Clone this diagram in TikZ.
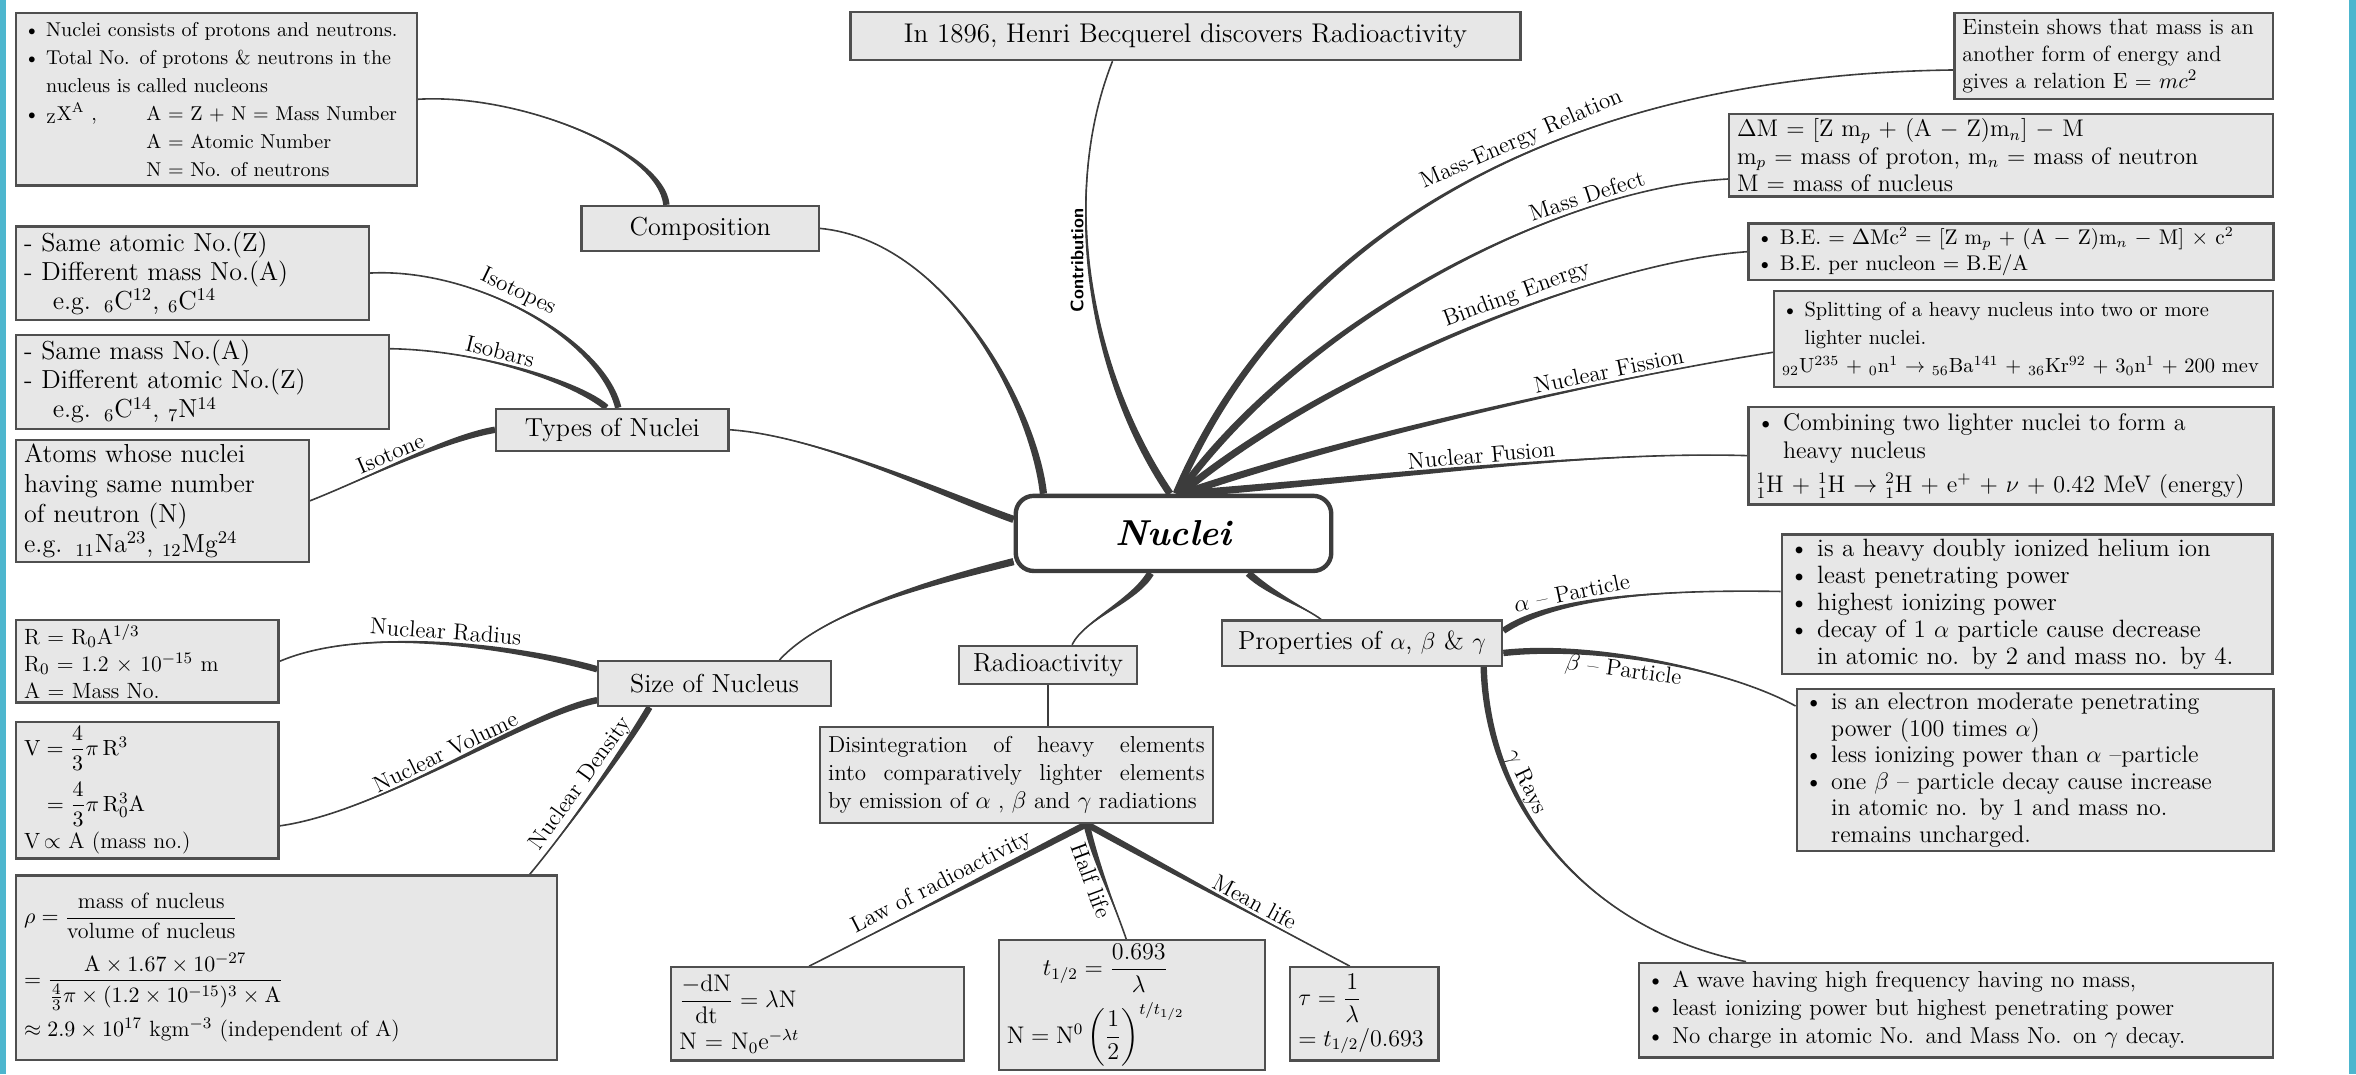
\documentclass[tikz,border=0pt]{standalone}
\usepackage{amsmath,amssymb}
\usepackage{xcolor}
\usepackage{tikz}
\usetikzlibrary{calc}
\pgfdeclarelayer{background}
\pgfsetlayers{background,main}

\definecolor{boxfill}{HTML}{E7E7E7}
\definecolor{boxline}{HTML}{4F4F4F}
\definecolor{wirecol}{HTML}{3C3C3C}
\definecolor{sidebar}{HTML}{4DB6CE}

\newcommand{\fs}[2]{\fontsize{#1}{#2}\selectfont}
\newcommand{\bul}{\makebox[1.1em][l]{\textbullet}}
\newcommand{\ind}{\hspace*{1.1em}}
\newcommand{\branch}[6][1.8]{%
  \fill[wirecol] ($#2!#1pt!90:#3$) .. controls ($#3!#1pt!-90:#2$) and #4 .. #5
    .. controls #4 and ($#3!#1pt!90:#2$) .. ($#2!#1pt!-90:#3$) -- cycle;
  \draw[wire] #2 .. controls #3 and #4 .. #5 #6;}

\begin{document}
\begin{tikzpicture}[x=0.75pt, y=-0.75pt,
  box/.style={draw=boxline, fill=boxfill, line width=1.1pt, anchor=north west, align=left, inner xsep=4pt, inner ysep=2pt},
  tag/.style={draw=boxline, fill=boxfill, line width=1.1pt, inner sep=2pt, font=\fs{13}{15}},
  wire/.style={draw=wirecol, line width=0.8pt},
  lbl/.style={sloped, above, inner sep=1.5pt, font=\fs{11.5}{12}}]
    \useasboundingbox (0,0) rectangle (1568,715);
    \fill[sidebar] (0,0) rectangle (4,715);
    \fill[sidebar] (1563,0) rectangle (1568,715);

    \node[draw=wirecol, line width=2.2pt, rounded corners=9pt, fill=white, minimum width=157.5pt, minimum height=37.5pt, font=\fs{18}{20}\bfseries\itshape] (nuc) at (781,355) {Nuclei};

    \node[tag, minimum width=334.5pt, minimum height=24pt, font=\fs{13.5}{15}] (toptag) at (789,24) {In 1896, Henri Becquerel discovers Radioactivity};
    \node[tag, minimum width=118.5pt, minimum height=22.5pt] (comptag) at (466,152) {Composition};
    \node[tag, minimum width=116pt, minimum height=21pt] (typestag) at (407.5,286) {Types of Nuclei};
    \node[tag, minimum width=116pt, minimum height=22.5pt] (sizetag) at (475.5,455) {Size of Nucleus};
    \node[tag, minimum width=89pt, minimum height=19pt] (radiotag) at (697.5,442.5) {Radioactivity};
    \node[tag, minimum width=140pt, minimum height=22.5pt] (propstag) at (906.5,428) {Properties of $\alpha$, $\beta$ \& $\gamma$};

    \node[box, text width=192pt, minimum height=86pt, font=\fs{10}{14}] (comp) at (10,8)
        {\bul Nuclei consists of protons and neutrons.\\
         \bul Total No. of protons \& neutrons in the\\
         \ind nucleus is called nucleons\\
         \bul\makebox[5em][l]{${}_{\mathrm{Z}}\mathrm{X}^{\mathrm{A}}$ ,}A = Z + N = Mass Number\\
         \hspace*{6.1em}A = Atomic Number\\
         \hspace*{6.1em}N = No. of neutrons};
    \node[box, text width=168pt, minimum height=46.5pt, font=\fs{13}{14.5}] (iso) at (10,150)
        {- Same atomic No.(Z)\\ - Different mass No.(A)\\ \ind e.g. ${}_6$C$^{12}$, ${}_6$C$^{14}$};
    \node[box, text width=178pt, minimum height=47pt, font=\fs{13}{14.5}] (isobar) at (10,222)
        {- Same mass No.(A)\\ - Different atomic No.(Z)\\ \ind e.g. ${}_6$C$^{14}$, ${}_7$N$^{14}$};
    \node[box, text width=138pt, minimum height=60pt, font=\fs{13}{15}] (isotone) at (10,292)
        {Atoms whose nuclei\\ having same number\\ of neutron (N)\\ e.g. ${}_{11}$Na$^{23}$, ${}_{12}$Mg$^{24}$};
    \node[box, text width=123pt, minimum height=38pt, font=\fs{11}{13.5}] (radius) at (10,412)
        {R = R$_0$A$^{1/3}$\\ R$_0$ = 1.2 $\times$ 10$^{-15}$ m\\ A = Mass No.};
    \node[box, text width=123pt, minimum height=67.5pt, font=\fs{11}{13}] (volume) at (10,480)
        {$\mathrm{V}=\dfrac{4}{3}\pi\,\mathrm{R}^3$\\[5pt]
         $\phantom{\mathrm{V}}=\dfrac{4}{3}\pi\,\mathrm{R}_0^3\mathrm{A}$\\[2pt]
         V$\,\propto$ A (mass no.)};
    \node[box, text width=262pt, minimum height=92pt, font=\fs{11}{13}] (density) at (10,582)
        {$\rho=\dfrac{\text{mass of nucleus}}{\text{volume of nucleus}}$\\[6pt]
         $=\dfrac{\mathrm{A}\times1.67\times10^{-27}}{\frac{4}{3}\pi\times(1.2\times10^{-15})^3\times\mathrm{A}}$\\[3pt]
         $\approx2.9\times10^{17}$ kgm$^{-3}$ (independent of A)};

    \node[box, text width=188pt, minimum height=48pt, align=justify, font=\fs{11.5}{14}] (disint) at (545,483)
        {Disintegration of heavy elements\linebreak into comparatively lighter elements\linebreak by emission of $\alpha$ , $\beta$ and $\gamma$ radiations};
    \node[box, text width=138pt, minimum height=46.5pt, font=\fs{12}{14}] (law) at (446,643)
        {$\dfrac{-\mathrm{dN}}{\mathrm{dt}}=\lambda\mathrm{N}$\\[2pt] N = N$_0$e$^{-\lambda t}$};
    \node[box, text width=125pt, minimum height=60pt, font=\fs{12}{14}] (half) at (664,625)
        {\hspace*{1.5em}$t_{1/2}=\dfrac{0.693}{\lambda}$\\[4pt] $\mathrm{N}=\mathrm{N}^0\left(\dfrac{1}{2}\right)^{t/t_{1/2}}$};
    \node[box, text width=66pt, minimum height=46.5pt, font=\fs{12}{14}] (mean) at (858,643)
        {$\tau=\dfrac{1}{\lambda}$\\[2pt] $=t_{1/2}/0.693$};

    \node[box, text width=151pt, minimum height=42.75pt, font=\fs{11}{13.5}] (einstein) at (1300,8)
        {Einstein shows that mass is an\\ another form of energy and\\ gives a relation E = $mc^2$};
    \node[box, text width=263.5pt, minimum height=41.25pt, font=\fs{12}{13.5}] (mdef) at (1150,75)
        {$\Delta$M = [Z m$_p$ + (A $-$ Z)m$_n$] $-$ M\\ m$_p$ = mass of proton, m$_n$ = mass of neutron\\ M = mass of nucleus};
    \node[box, text width=254pt, minimum height=27.75pt, font=\fs{10.6}{13}] (be) at (1163,148)
        {\bul B.E. = $\Delta$Mc$^2$ = [Z m$_p$ + (A $-$ Z)m$_n$ $-$ M] $\times$ c$^2$\\ \bul B.E. per nucleon = B.E/A};
    \node[box, text width=241pt, minimum height=48pt, font=\fs{10.2}{14}] (fission) at (1180,193)
        {\bul Splitting of a heavy nucleus into two or more\\ \ind lighter nuclei.\\
         ${}_{92}$U$^{235}$ + ${}_0$n$^1$ $\rightarrow$ ${}_{56}$Ba$^{141}$ + ${}_{36}$Kr$^{92}$ + 3${}_0$n$^1$ + 200 mev};
    \node[box, text width=254pt, minimum height=48.75pt, font=\fs{12}{14}] (fusion) at (1163,270)
        {\bul Combining two lighter nuclei to form a\\ \ind heavy nucleus\\[3pt]
         ${}^1_1$H + ${}^1_1$H $\rightarrow$ ${}^2_1$H + e$^+$ + $\nu$ + 0.42 MeV (energy)};
    \node[box, text width=237pt, minimum height=69.75pt, font=\fs{12.5}{13.5}] (alpha) at (1185,355)
        {\bul is a heavy doubly ionized helium ion\\ \bul least penetrating power\\ \bul highest ionizing power\\
         \bul decay of 1 $\alpha$ particle cause decrease\\ \ind in atomic no. by 2 and mass no. by 4.};
    \node[box, text width=230pt, minimum height=80.25pt, font=\fs{12}{13.2}] (beta) at (1195,458)
        {\bul is an electron moderate penetrating\\ \ind power (100 times $\alpha$)\\ \bul less ionizing power than $\alpha$ --particle\\
         \bul one $\beta$ -- particle decay cause increase\\ \ind in atomic no. by 1 and mass no.\\ \ind remains uncharged.};
    \node[box, text width=308.5pt, minimum height=47.25pt, font=\fs{11.5}{14}] (gamma) at (1090,640)
        {\bul A wave having high frequency having no mass,\\ \bul least ionizing power but highest penetrating power\\
         \bul No charge in atomic No. and Mass No. on $\gamma$ decay.};

    \begin{pgfonlayer}{background}
    \branch{(nuc.95)}{(725,250)}{(705,130)}{(toptag.-161)}{node[pos=.55, rotate=90, above, inner sep=2pt, font=\fs{9}{10}\sffamily\bfseries]{Contribution}}
    \branch{(nuc.86)}{(850,170)}{(1020,50)}{(einstein.-175)}{node[lbl, pos=.6]{Mass-Energy Relation}}
    \branch{(nuc.83)}{(870,210)}{(1040,125)}{(mdef.-175)}{node[lbl, pos=.75]{Mass Defect}}
    \branch{(nuc.80)}{(880,250)}{(1060,175)}{(be.west)}{node[lbl, pos=.6]{Binding Energy}}
    \branch{(nuc.77)}{(900,290)}{(1080,250)}{(fission.-177)}{node[lbl, pos=.7]{Nuclear Fission}}
    \branch{(nuc.72)}{(920,318)}{(1060,300)}{(fusion.west)}{node[lbl, pos=.5]{Nuclear Fusion}}

    \branch{(nuc.163)}{(688,270)}{(630,160)}{(comptag.east)}{}
    \branch{(nuc.175)}{(630,330)}{(545,290)}{(typestag.east)}{}
    \branch{(nuc.190)}{(630,385)}{(550,405)}{(sizetag.20)}{}
    \branch{(nuc.-120)}{(755,400)}{(722,412)}{(radiotag.40)}{}
    \branch{(nuc.-28)}{(845,395)}{(870,405)}{(propstag.150)}{}

    \branch[1.6]{(comptag.145)}{(440,100)}{(345,62)}{(comp.east)}{}
    \branch[1.6]{(typestag.75)}{(400,225)}{(315,178)}{(iso.east)}{node[lbl, pos=.55]{Isotopes}}
    \branch[1.6]{(typestag.105)}{(385,255)}{(320,233)}{(isobar.10)}{node[lbl, pos=.6]{Isobars}}
    \branch[1.6]{(typestag.west)}{(295,292)}{(245,318)}{(isotone.east)}{node[lbl, pos=.55]{Isotone}}

    \branch[1.6]{(sizetag.173)}{(350,432)}{(245,415)}{(radius.east)}{node[lbl, pos=.5]{Nuclear Radius}}
    \branch[1.6]{(sizetag.188)}{(350,475)}{(255,540)}{(volume.-15)}{node[lbl, pos=.5]{Nuclear Volume}}
    \branch[1.6]{(sizetag.-160)}{(415,500)}{(375,555)}{(density.21)}{node[lbl, pos=.5]{Nuclear Density}}

    \draw[wire] (radiotag.south) -- (radiotag.south |- disint.north);
    \branch[1.6]{(disint.-35)}{(662,580)}{(600,612)}{(law.100)}{node[lbl, pos=.5]{Law of radioactivity}}
    \branch[1.6]{(disint.-35)}{(729,574)}{(741,600)}{(half.95)}{node[lbl, below, pos=.45]{Half life}}
    \branch[1.6]{(disint.-35)}{(780,580)}{(840,612)}{(mean.107)}{node[lbl, pos=.62]{Mean life}}

    \branch[1.6]{(propstag.5)}{(1030,400)}{(1090,392)}{(alpha.177)}{node[lbl, pos=.38]{$\alpha$ -- Particle}}
    \branch[1.6]{(propstag.-4)}{(1060,428)}{(1150,445)}{(beta.165)}{node[lbl, below, pos=.4]{$\beta$ -- Particle}}
    \branch[1.6]{(propstag.-11)}{(990,540)}{(1060,620)}{(gamma.167)}{node[lbl, pos=.3]{$\gamma$ Rays}}
    \end{pgfonlayer}
\end{tikzpicture}
\end{document}
